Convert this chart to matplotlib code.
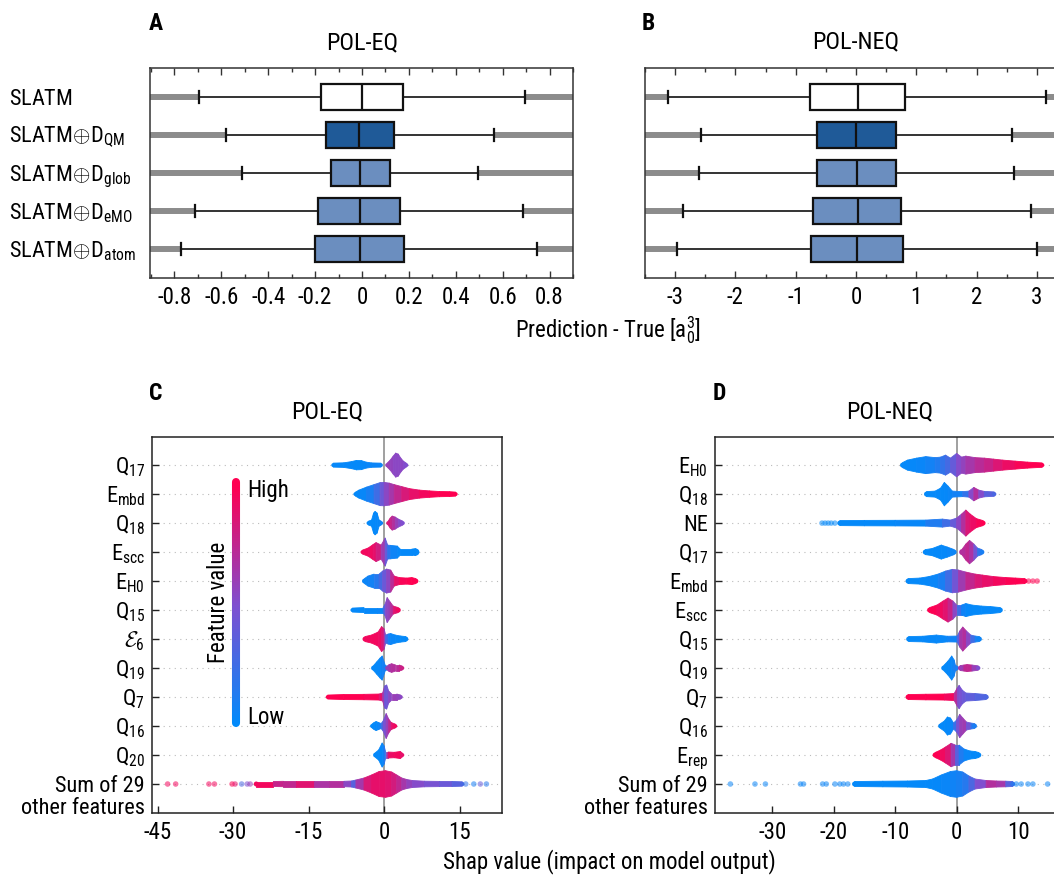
import numpy as np
import matplotlib
matplotlib.use("Agg")
import matplotlib.pyplot as plt
from matplotlib.colors import LinearSegmentedColormap
from matplotlib.collections import LineCollection, PolyCollection
import matplotlib.transforms as mtrans
import matplotlib.font_manager as fm

# ---------------- fonts ----------------
_names = {f.name for f in fm.fontManager.ttflist}
FONT = "DejaVu Sans"
for cand in ["Liberation Sans Narrow", "Roboto Condensed", "Open Sans Condensed", "Arial Narrow", "Liberation Sans"]:
    if cand in _names:
        FONT = cand
        break
plt.rcParams["font.family"] = [FONT, "DejaVu Sans"]
plt.rcParams["mathtext.fontset"] = "custom"
plt.rcParams["mathtext.rm"] = FONT
plt.rcParams["mathtext.it"] = FONT + ":italic"
plt.rcParams["mathtext.bf"] = FONT + ":bold"
plt.rcParams["mathtext.cal"] = "cmsy10"

# ---------------- data: box plots ----------------
box_labels = [r"$\mathrm{SLATM}$", r"$\mathrm{SLATM}\!\oplus\!\mathrm{D}_{\mathrm{QM}}$",
              r"$\mathrm{SLATM}\!\oplus\!\mathrm{D}_{\mathrm{glob}}$", r"$\mathrm{SLATM}\!\oplus\!\mathrm{D}_{\mathrm{eMO}}$",
              r"$\mathrm{SLATM}\!\oplus\!\mathrm{D}_{\mathrm{atom}}$"]
box_colors = ["#ffffff", "#1f5a98", "#6b8ebf", "#6b8ebf", "#6b8ebf"]

A_q1 = [-0.174, -0.153, -0.134, -0.187, -0.202]
A_med = [0.0, -0.011, -0.008, -0.008, -0.008]
A_q3 = [0.174, 0.136, 0.120, 0.164, 0.180]
A_lo = [-0.696, -0.580, -0.510, -0.711, -0.771]
A_hi = [0.696, 0.564, 0.495, 0.688, 0.748]
A_min = [-1.6, -1.4, -1.3, -1.7, -1.8]
A_max = [1.6, 1.4, 1.3, 1.7, 1.8]
A_ticks = [-0.8, -0.6, -0.4, -0.2, 0.0, 0.2, 0.4, 0.6, 0.8]
A_ticklabels = ["-0.8", "-0.6", "-0.4", "-0.2", "0", "0.2", "0.4", "0.6", "0.8"]

B_q1 = [-0.77, -0.64, -0.65, -0.71, -0.74]
B_med = [0.03, 0.005, 0.017, 0.033, 0.022]
B_q3 = [0.81, 0.66, 0.665, 0.75, 0.78]
B_lo = [-3.12, -2.57, -2.60, -2.87, -2.97]
B_hi = [3.15, 2.58, 2.62, 2.91, 3.00]
B_min = [-6.0, -5.5, -5.5, -6.0, -6.0]
B_max = [6.0, 5.5, 5.5, 6.0, 6.0]
B_ticks = [-3, -2, -1, 0, 1, 2, 3]
B_ticklabels = ["-3", "-2", "-1", "0", "1", "2", "3"]

# ---------------- data: SHAP beeswarm profiles ----------------
# each feature: list of segments; each segment: (shap value, half-height in px, feature-value colour 0..1)
C_labels = [r"$\mathrm{Q}_{17}$", r"$\mathrm{E}_{\mathrm{mbd}}$", r"$\mathrm{Q}_{18}$", r"$\mathrm{E}_{\mathrm{scc}}$",
            r"$\mathrm{E}_{\mathrm{H0}}$", r"$\mathrm{Q}_{15}$", r"$\mathcal{E}_{6}$", r"$\mathrm{Q}_{19}$",
            r"$\mathrm{Q}_{7}$", r"$\mathrm{Q}_{16}$", r"$\mathrm{Q}_{20}$", "Sum of 29"]
c_q17 = [[(-10.1, 2, 0.03), (-8, 2.3, 0.03), (-6.5, 3.5, 0.02), (-5.5, 4.7, 0.02), (-4.5, 4.5, 0.02),
          (-3.6, 3, 0.03), (-2.5, 2.2, 0.05), (-0.65, 2, 0.05)],
         [(0.6, 2, 0.6), (1.2, 5, 0.6), (1.8, 9, 0.55), (2.3, 12, 0.55), (2.8, 11, 0.55), (3.3, 7, 0.55),
          (3.8, 4, 0.55), (4.4, 2, 0.5)]]
c_embd = [[(-5.7, 2, 0.02), (-5, 4, 0.02), (-3.5, 7, 0.05), (-2, 9.5, 0.15), (-0.8, 11.5, 0.35), (0, 11.7, 0.5),
           (1, 11, 0.6), (2, 9.5, 0.7), (3.5, 7.5, 0.8), (5, 5.5, 0.88), (7, 4, 0.93), (9, 3.2, 0.97),
           (11, 2.6, 1.0), (13, 2.4, 1.0), (14.2, 2, 1.0)]]
c_q18 = [[(-3.1, 2, 0.02), (-2.5, 3, 0.02), (-2.1, 10, 0.02), (-1.8, 11.7, 0.02), (-1.4, 10, 0.03),
          (-1.0, 3, 0.03), (-0.6, 2, 0.05)],
         [(0.8, 2, 0.85), (1.2, 5, 0.8), (1.6, 7, 0.75), (2.2, 6, 0.65), (2.8, 4, 0.55), (3.7, 2, 0.5)]]
c_escc = [[(-4.3, 2, 0.95), (-3.2, 4, 0.95), (-2.2, 7.5, 0.92), (-1.6, 9.5, 0.88), (-0.6, 7, 0.75),
           (0.2, 14, 0.5), (0.7, 7, 0.3), (1.3, 6.7, 0.08), (2.6, 6, 0.03), (3.2, 3, 0.02), (5.5, 3, 0.02),
           (6.3, 3.5, 0.02)]]
c_eh0 = [[(-3.9, 2.5, 0.05), (-3.2, 5, 0.05), (-2, 7, 0.1), (-1, 7, 0.2), (-0.3, 10, 0.35), (0.5, 12, 0.5),
          (1.3, 11, 0.6), (2, 5, 0.85), (3, 3.5, 0.95), (4.5, 3, 1.0), (5.5, 3.5, 1.0), (6.3, 2.5, 1.0)]]
c_q15 = [[(-6.3, 2, 0.02), (-4, 2.5, 0.02), (-1.5, 2.5, 0.03), (-0.2, 2.5, 0.05), (0.2, 6, 0.5),
          (0.6, 12.5, 0.55), (1.2, 8, 0.6), (1.8, 4, 0.8), (2.8, 2.5, 0.95)]]
c_eps6 = [[(-3.8, 2.5, 0.95), (-2.5, 4, 0.95), (-1.2, 7, 0.95), (-0.5, 12.5, 0.9), (0.0, 10, 0.8),
           (0.3, 4, 0.4), (0.8, 5, 0.1), (1.3, 5.5, 0.05), (2.2, 4, 0.03), (3.3, 3, 0.02), (4.3, 2.5, 0.02)]]
c_q19 = [[(-2.1, 2.5, 0.02), (-1.5, 6, 0.02), (-0.8, 10, 0.03), (-0.4, 12, 0.05), (0.2, 3, 0.1)],
         [(0.6, 2, 0.6), (1.0, 3.5, 0.65), (1.5, 4.3, 0.7), (2.3, 3, 0.7), (3.0, 3, 0.75), (3.6, 2, 0.8)]]
c_q7 = [[(-11.2, 2, 1.0), (-8, 2.5, 1.0), (-4, 2.7, 1.0), (-1, 3, 0.95), (-0.3, 4, 0.8), (0.1, 11, 0.45),
         (0.5, 12, 0.4), (0.9, 6, 0.5), (1.5, 3, 0.6), (2.5, 3, 0.6), (3.3, 2, 0.55)]]
c_q16 = [[(-2.4, 2, 0.02), (-2, 3.5, 0.02), (-1.6, 4.5, 0.02), (-1.1, 3.5, 0.03), (-0.6, 2.5, 0.1),
          (-0.2, 5, 0.4), (0.4, 12.5, 0.55), (0.9, 7, 0.65), (1.4, 3.5, 0.85), (2.2, 2, 0.95)]]
c_q20 = [[(-1.7, 2.5, 0.02), (-1.1, 5, 0.02), (-0.4, 12, 0.03), (0.0, 9, 0.05), (0.3, 3, 0.3),
          (0.8, 3, 0.9), (2, 2.7, 0.95), (3.2, 3.5, 0.95), (3.6, 2, 0.9)]]
c_sum = [[(-25.4, 2.5, 0.95), (-22, 2.5, 0.95), (-20, 2.7, 0.6), (-17.5, 2.7, 0.9), (-14, 2.7, 0.85),
          (-11, 2.7, 0.5), (-8, 2.7, 0.9), (-6.5, 3, 0.2), (-5.6, 4, 0.5), (-4, 6, 0.8), (-2.5, 9, 0.9),
          (-1, 12.5, 0.9), (0.3, 13.3, 0.9), (1.5, 12, 0.85), (2.5, 9, 0.8), (3.5, 6, 0.7), (4.5, 4.5, 0.6),
          (5.6, 3.5, 0.55), (8, 2.8, 0.5), (11, 2.6, 0.45), (13.5, 2.5, 0.4), (15.5, 2.2, 0.3)]]
C_rows = [c_q17, c_embd, c_q18, c_escc, c_eh0, c_q15, c_eps6, c_q19, c_q7, c_q16, c_q20, c_sum]
C_dots_row = [11] * 13
C_dots_x = [-43.0, -41.4, -34.8, -33.7, -30.2, -29.6, -28.3, -27.2, -26.6, 16.2, 17.8, 19.1, 20.3]
C_dots_c = [0.95, 0.95, 0.95, 0.95, 1.0, 0.9, 0.3, 0.5, 0.6, 0.2, 0.1, 0.4, 0.15]
C_ticks = [-45, -30, -15, 0, 15]
C_ticklabels = ["-45", "-30", "-15", "0", "15"]

D_labels = [r"$\mathrm{E}_{\mathrm{H0}}$", r"$\mathrm{Q}_{18}$", "NE", r"$\mathrm{Q}_{17}$",
            r"$\mathrm{E}_{\mathrm{mbd}}$", r"$\mathrm{E}_{\mathrm{scc}}$", r"$\mathrm{Q}_{15}$", r"$\mathrm{Q}_{19}$",
            r"$\mathrm{Q}_{7}$", r"$\mathrm{Q}_{16}$", r"$\mathrm{E}_{\mathrm{rep}}$", "Sum of 29"]
d_eh0 = [[(-8.8, 2.5, 0.02), (-8, 5, 0.02), (-6.5, 7, 0.03), (-5, 8.5, 0.05), (-3.5, 7.5, 0.1),
          (-2.6, 8, 0.15), (-1.8, 10, 0.25), (-1.0, 7, 0.3), (0, 11.7, 0.5), (0.8, 8, 0.55), (1.5, 9, 0.6),
          (3, 7.5, 0.7), (4.5, 7, 0.75), (6, 6, 0.82), (7.5, 5, 0.9), (9.5, 4, 0.95), (11.5, 3, 1.0),
          (13.9, 2.2, 1.0)]]
d_q18 = [[(-4.9, 2.5, 0.02), (-3.5, 3, 0.02), (-2.6, 6, 0.02), (-2.0, 11.7, 0.02), (-1.4, 8, 0.03),
          (-0.7, 3, 0.05), (1, 2.5, 0.1), (2, 3, 0.3), (2.8, 6.7, 0.75), (3.6, 4, 0.65), (4.5, 2.7, 0.4),
          (6.1, 2.2, 0.3)]]
d_ne = [[(-19, 2.5, 0.02), (-15, 2.7, 0.02), (-10, 2.8, 0.02), (-5, 3, 0.05), (-2.3, 4, 0.2), (-1, 3, 0.3),
         (0, 5, 0.5), (0.8, 9, 0.6), (1.5, 13, 0.8), (2.2, 9, 0.9), (3.2, 4.5, 0.95), (4.3, 2.5, 1.0)]]
d_q17 = [[(-5.1, 2.5, 0.02), (-4, 3.5, 0.02), (-2.5, 7, 0.02), (-1.5, 5, 0.03), (-0.4, 2.5, 0.05)],
         [(0.9, 3, 0.7), (1.5, 8, 0.75), (2.1, 11.7, 0.75), (2.8, 8, 0.6), (3.4, 4, 0.3), (4.1, 2.5, 0.1)]]
d_embd = [[(-7.9, 2.5, 0.02), (-6, 3, 0.02), (-4.5, 4.5, 0.03), (-3, 7, 0.05), (-1.8, 10, 0.15),
           (-0.7, 11.7, 0.35), (0.3, 11, 0.55), (1.5, 9, 0.7), (3, 7, 0.82), (4.2, 6, 0.88), (6, 4.5, 0.93),
           (8, 3.5, 0.97), (9.6, 3, 1.0), (11.1, 2.5, 1.0)]]
d_escc = [[(-4.4, 2.5, 1.0), (-3.2, 5, 0.97), (-2.2, 9, 0.92), (-1.4, 12, 0.85), (-0.6, 9, 0.7), (0, 5, 0.4),
           (0.8, 5, 0.1), (1.5, 6.5, 0.03), (2.5, 5, 0.02), (4, 4, 0.02), (5.5, 3.5, 0.02), (7.1, 2.5, 0.02)]]
d_q15 = [[(-7.8, 2.5, 0.02), (-5.5, 2.8, 0.02), (-3.3, 4, 0.03), (-1.5, 2.8, 0.03), (0.1, 3, 0.1),
          (0.5, 8, 0.6), (1.0, 12, 0.7), (1.6, 8, 0.7), (2.3, 4, 0.4), (3.0, 3, 0.1), (3.7, 2.5, 0.05)]]
d_q19 = [[(-2.1, 2.5, 0.02), (-1.4, 7, 0.02), (-0.8, 12, 0.03), (-0.4, 8, 0.05), (-0.2, 3, 0.1)],
         [(0.6, 2.5, 0.6), (1.2, 3, 0.7), (1.7, 3.5, 0.8), (2.5, 3, 0.7), (3.5, 2.2, 0.5)]]
d_q7 = [[(-7.9, 2.5, 1.0), (-5, 2.8, 1.0), (-2, 3, 1.0), (-0.4, 3.5, 0.9), (0.1, 9, 0.55), (0.4, 11.7, 0.5),
         (0.9, 7, 0.45), (1.5, 4, 0.4), (3, 3.5, 0.35), (4.8, 2.5, 0.3)]]
d_q16 = [[(-2.6, 2.5, 0.02), (-2, 5, 0.02), (-1.5, 9, 0.02), (-1.0, 8, 0.03), (-0.5, 3, 0.05), (0, 6, 0.4),
          (0.5, 11.7, 0.55), (1.0, 8, 0.65), (1.6, 4, 0.6), (2.3, 3, 0.3), (2.9, 2.5, 0.1)]]
d_erep = [[(-3.5, 2.5, 1.0), (-2.6, 5, 0.97), (-1.8, 8, 0.92), (-0.9, 11.7, 0.8), (-0.2, 10, 0.5),
           (0.4, 10, 0.2), (1.2, 6, 0.05), (2.2, 4, 0.02), (3.0, 3.5, 0.02), (3.6, 2.5, 0.02)]]
d_sum = [[(-16.6, 2.5, 0.02), (-12, 2.8, 0.02), (-8, 3, 0.02), (-5, 3.5, 0.02), (-3.9, 5, 0.02),
          (-2.5, 9, 0.03), (-1, 12.5, 0.05), (0, 13.3, 0.08), (1, 12, 0.1), (2, 8, 0.2), (3, 5, 0.4),
          (4.8, 3.5, 0.6), (6.5, 3, 0.8), (8, 2.8, 0.5), (9.1, 2.5, 0.2)]]
D_rows = [d_eh0, d_q18, d_ne, d_q17, d_embd, d_escc, d_q15, d_q19, d_q7, d_q16, d_erep, d_sum]
D_dots_row = [2] * 5 + [4] * 3 + [11] * 16
D_dots_x = [-21.9, -21.4, -20.9, -20.4, -19.8, 11.7, 12.4, 13.1,
            -36.8, -32.8, -31.1, -25.4, -24.9, -21.8, -21.2, -19.8, -19.0, -18.4, -17.7, 9.7, 10.5, 11.6, 12.4, 14.8]
D_dots_c = [0.02] * 5 + [1.0] * 3 + [0.05] * 16
D_ticks = [-30, -20, -10, 0, 10]
D_ticklabels = ["-30", "-20", "-10", "0", "10"]

# ---------------- figure ----------------
W, H = 1054, 876
fig = plt.figure(figsize=(W / 100, H / 100), dpi=100)
cmap = LinearSegmentedColormap.from_list("shap", ["#008bfb", "#7e4fd0", "#ff0051"])

FS_TICK = 16.5
FS_LAB = 16
FS_TITLE = 17.5
FS_LETTER = 17


def fax(l, t, r, b):
    return fig.add_axes([l / W, 1 - b / H, (r - l) / W, (b - t) / H])


def fx(x):
    return x / W


def fy(y):
    return 1 - y / H


def style_box_axes(ax, xlim, ticks, ticklabels, minor):
    ax.set_xlim(*xlim)
    ax.set_ylim(4.763, -0.763)
    ax.set_xticks(ticks)
    ax.set_xticklabels(ticklabels)
    ax.set_xticks(minor, minor=True)
    ax.set_yticks([])
    ax.tick_params(axis="x", which="both", direction="in", top=True, bottom=True, width=1.0, color="#333333")
    ax.tick_params(axis="x", which="major", length=5, labelsize=FS_TICK, pad=6)
    ax.tick_params(axis="x", which="minor", length=3)
    for s in ax.spines.values():
        s.set_linewidth(1.1)
        s.set_color("#333333")


def draw_boxes(ax, q1, med, q3, lo, hi, mn, mx):
    stats = [dict(med=m, q1=a, q3=b, whislo=l, whishi=h, fliers=[]) for a, m, b, l, h in zip(q1, med, q3, lo, hi)]
    ax.hlines(range(5), mn, lo, color="#8c8c8c", lw=4.3, zorder=1)
    ax.hlines(range(5), hi, mx, color="#8c8c8c", lw=4.3, zorder=1)
    bp = ax.bxp(stats, positions=range(5), widths=0.71, orientation="horizontal", patch_artist=True,
                showfliers=False, capwidths=0.32,
                boxprops=dict(linewidth=1.6, edgecolor="#111111"),
                medianprops=dict(color="#111111", linewidth=1.6),
                whiskerprops=dict(color="#111111", linewidth=1.2),
                capprops=dict(color="#111111", linewidth=1.6), zorder=3)
    for patch, c in zip(bp["boxes"], box_colors):
        patch.set_facecolor(c)


# panel A
axA = fax(150, 68, 573, 278)
draw_boxes(axA, A_q1, A_med, A_q3, A_lo, A_hi, A_min, A_max)
style_box_axes(axA, (-0.904, 0.898), A_ticks, A_ticklabels, np.arange(-0.9, 0.91, 0.1))
for i, lab in enumerate(box_labels):
    tr = mtrans.offset_copy(axA.get_yaxis_transform(), fig=fig, x=0, y=-8, units="dots")
    axA.text((9 - 150) / 423, i, lab, transform=tr, ha="left", va="baseline", fontsize=FS_LAB)

# panel B
axB = fax(645, 68, 1067, 278)
draw_boxes(axB, B_q1, B_med, B_q3, B_lo, B_hi, B_min, B_max)
style_box_axes(axB, (-3.5, 3.5), B_ticks, B_ticklabels, np.arange(-3.5, 3.51, 0.5))

fig.text(fx(149), fy(24), "A", fontsize=FS_LETTER, fontweight="bold", ha="left", va="center")
fig.text(fx(362), fy(43), "POL-EQ", fontsize=FS_TITLE, ha="center", va="center")
fig.text(fx(642), fy(23), "B", fontsize=FS_LETTER, fontweight="bold", ha="left", va="center")
fig.text(fx(856), fy(42), "POL-NEQ", fontsize=FS_TITLE, ha="center", va="center")
fig.text(fx(608), fy(330), r"Prediction - True [$\mathrm{a}_0^3$]", fontsize=16.5, ha="center", va="center")


# ---------------- beeswarm panels ----------------
PX = 29.0


def draw_swarm(ax, rows, dots_row, dots_x, dots_c):
    for i in range(len(rows)):
        ax.axhline(i, color="#bbbbbb", lw=0.8, dashes=(1, 4), zorder=0)
    ax.axvline(0, color="#999999", lw=1.3, zorder=1)
    polys, cols = [], []
    cap_x, cap_y, cap_s, cap_c = [], [], [], []
    for i, segs in enumerate(rows):
        for seg in segs:
            for (x0, w0, c0), (x1, w1, c1) in zip(seg[:-1], seg[1:]):
                polys.append([(x0, i - w0 / PX), (x1, i - w1 / PX), (x1, i + w1 / PX), (x0, i + w0 / PX)])
                cols.append(cmap((c0 + c1) / 2))
            for (x, w, c) in (seg[0], seg[-1]):
                cap_x.append(x)
                cap_y.append(i)
                cap_s.append((2 * w * 0.72) ** 2)
                cap_c.append(cmap(c))
    ax.add_collection(PolyCollection(polys, facecolors=cols, edgecolors=cols, linewidths=0.6, zorder=2))
    ax.scatter(cap_x, cap_y, s=cap_s, c=cap_c, linewidths=0, zorder=2)
    ax.scatter(dots_x, dots_row, s=16, c=[cmap(c) for c in dots_c], alpha=0.55, linewidths=0, zorder=2)


def style_swarm_axes(ax, xlim, ticks, ticklabels, labels, axw):
    ax.set_xlim(*xlim)
    ax.set_ylim(12.0, -0.97)
    ax.set_xticks(ticks)
    ax.set_xticklabels(ticklabels)
    ax.set_yticks(range(len(labels)))
    ax.set_yticklabels([])
    ax.tick_params(axis="both", direction="in", length=5, width=1.0, color="#222222", labelsize=FS_TICK)
    ax.tick_params(axis="x", pad=6)
    for s in ax.spines.values():
        s.set_linewidth(1.1)
        s.set_color("#222222")
    tr = mtrans.offset_copy(ax.get_yaxis_transform(), fig=fig, x=0, y=-8, units="dots")
    tr2 = mtrans.offset_copy(ax.get_yaxis_transform(), fig=fig, x=0, y=-30, units="dots")
    for i, lab in enumerate(labels):
        ax.text(-7 / axw, i, lab, transform=tr, ha="right", va="baseline", fontsize=FS_LAB)
    ax.text(-7 / axw, len(labels) - 1, "other features", transform=tr2, ha="right", va="baseline", fontsize=FS_LAB)


axC = fax(152, 437, 502, 813)
draw_swarm(axC, C_rows, C_dots_row, C_dots_x, C_dots_c)
style_swarm_axes(axC, (-46.1, 23.4), C_ticks, C_ticklabels, C_labels, 350)

axD = fax(715, 437, 1071, 813)
draw_swarm(axD, D_rows, D_dots_row, D_dots_x, D_dots_c)
style_swarm_axes(axD, (-39.3, 18.6), D_ticks, D_ticklabels, D_labels, 356)

# colour bar inside panel C
cb_y = np.linspace(0.239, 0.881, 120)
cb_pts = np.array([[0.24, y] for y in cb_y])
segs = np.stack([cb_pts[:-1], cb_pts[1:]], axis=1)
lc = LineCollection(segs, colors=cmap(np.linspace(0, 1, len(segs))), linewidths=5.8, capstyle="round",
                    transform=axC.transAxes, zorder=5)
axC.add_collection(lc)
axC.text(0.271, 0.859, "High", transform=axC.transAxes, ha="left", va="center", fontsize=16.5)
axC.text(0.271, 0.253, "Low", transform=axC.transAxes, ha="left", va="center", fontsize=16.5)
axC.text(0.189, 0.559, "Feature value", transform=axC.transAxes, ha="center", va="center", rotation=90,
         fontsize=16.5)

fig.text(fx(149), fy(393), "C", fontsize=FS_LETTER, fontweight="bold", ha="left", va="center")
fig.text(fx(327), fy(412), "POL-EQ", fontsize=FS_TITLE, ha="center", va="center")
fig.text(fx(713), fy(393), "D", fontsize=FS_LETTER, fontweight="bold", ha="left", va="center")
fig.text(fx(890), fy(412), "POL-NEQ", fontsize=FS_TITLE, ha="center", va="center")
fig.text(fx(609), fy(862), "Shap value (impact on model output)", fontsize=16.5, ha="center", va="center")

fig.savefig("out.png", dpi=100)
